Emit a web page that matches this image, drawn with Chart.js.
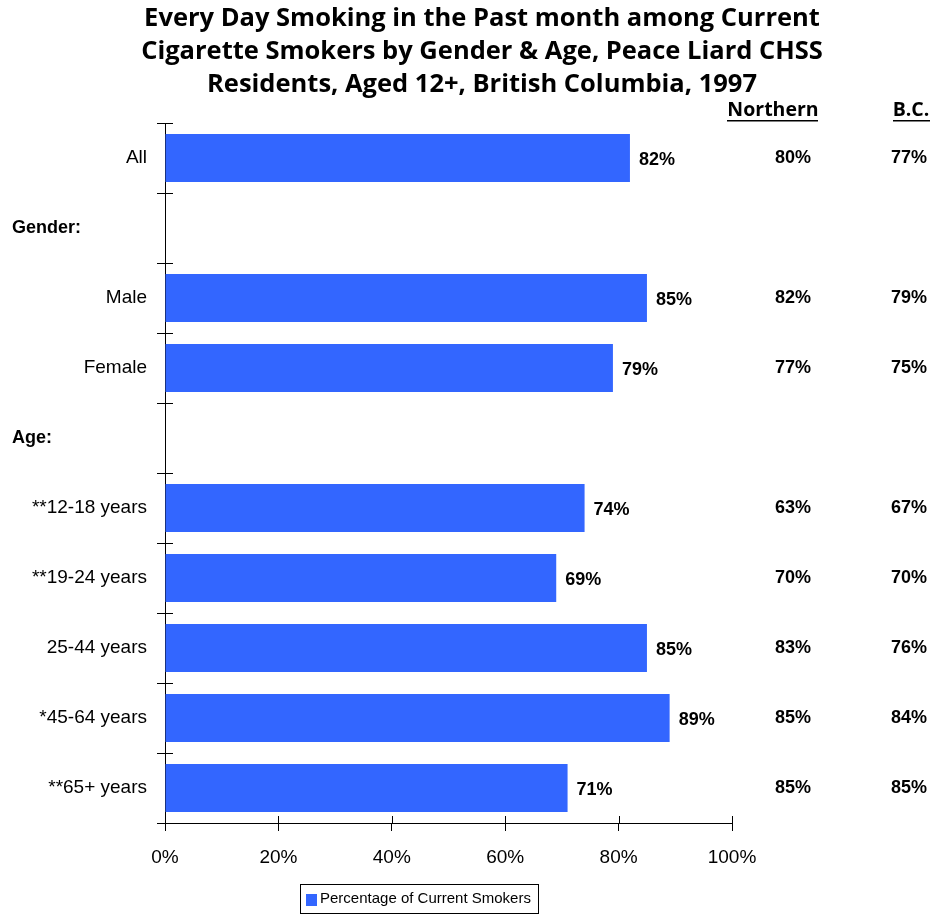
<!DOCTYPE html>
<html><head><meta charset="utf-8">
<script src="https://cdn.jsdelivr.net/npm/chart.js@4/dist/chart.umd.min.js"></script>
<style>html,body{margin:0;padding:0;background:#fff}#wrap{width:934px;height:914px}</style>
</head><body><div id="wrap"><canvas id="c" width="934" height="914"></canvas></div>
<script>
const categories = ['All','Gender:','Male','Female','Age:','**12-18 years','**19-24 years','25-44 years','*45-64 years','**65+ years'];
const headerRows = ['Gender:','Age:'];
const peaceLiard = [82,null,85,79,null,74,69,85,89,71];
const northern   = [80,null,82,77,null,63,70,83,85,85];
const bc         = [77,null,79,75,null,67,70,76,84,85];
const xTicks = [0,20,40,60,80,100];
const titleLines = ['Every Day Smoking in the Past month among Current','Cigarette Smokers by Gender & Age, Peace Liard CHSS','Residents, Aged 12+, British Columbia, 1997'];
const seriesName = 'Percentage of Current Smokers';
const colHeaders = ['Northern','B.C.'];
const BLUE = '#3366FF';
const FONT = '"Liberation Sans", Arial, sans-serif';
const TFONT = '"Open Sans", "Liberation Sans", sans-serif';

const extras = {
  id:'extras',
  afterDraw(chart){
    const ctx = chart.ctx, ys = chart.scales.y, xs = chart.scales.x, ca = chart.chartArea;
    ctx.save();
    // title
    ctx.fillStyle='#000'; ctx.textAlign='center'; ctx.textBaseline='middle';
    ctx.font = 'bold 25.5px ' + TFONT;
    titleLines.forEach((t,i)=>ctx.fillText(t, 482, 19 + i*33));
    // inward ticks y
    ctx.strokeStyle='#000'; ctx.lineWidth=1;
    const half = (ys.getPixelForValue(1)-ys.getPixelForValue(0))/2;
    for(let i=0;i<=categories.length;i++){
      const y = Math.round(ys.getPixelForValue(0) - half + i*2*half)+0.5;
      ctx.beginPath(); ctx.moveTo(ca.left, y); ctx.lineTo(ca.left+8, y); ctx.stroke();
    }
    xTicks.forEach(v=>{
      const x = Math.round(xs.getPixelForValue(v))+0.5;
      ctx.beginPath(); ctx.moveTo(x, ca.bottom); ctx.lineTo(x, ca.bottom-7); ctx.stroke();
    });
    // headers
    ctx.font = 'bold 18px ' + FONT; ctx.textAlign='left';
    categories.forEach((c,i)=>{
      if(headerRows.includes(c)) ctx.fillText(c, 12, ys.getPixelForValue(i));
    });
    // value labels
    const meta = chart.getDatasetMeta(0);
    peaceLiard.forEach((v,i)=>{
      if(v==null) return;
      const bar = meta.data[i];
      ctx.textAlign='left';
      ctx.fillText(v+'%', bar.x+9, bar.y+2);
      ctx.textAlign='center';
      ctx.fillText(northern[i]+'%', 793, bar.y);
      ctx.fillText(bc[i]+'%', 909, bar.y);
    });
    // column headers underlined
    ctx.font = 'bold 19.5px ' + TFONT;
    [[colHeaders[0],773],[colHeaders[1],911]].forEach(([t,x])=>{
      ctx.textAlign='center'; ctx.fillText(t, x, 110);
      const w = ctx.measureText(t).width;
      ctx.fillRect(Math.round(x-w/2), 120, Math.round(w), 1.5);
    });
    // legend
    ctx.strokeStyle='#000'; ctx.lineWidth=1;
    ctx.strokeRect(300.5, 884.5, 238, 29);
    ctx.fillStyle=BLUE; ctx.fillRect(306, 894, 11, 12);
    ctx.fillStyle='#000'; ctx.textAlign='left'; ctx.font='15px ' + FONT;
    ctx.fillText(seriesName, 320, 899);
    ctx.restore();
  }
};

new Chart(document.getElementById('c'), {
  type:'bar',
  data:{ labels:categories, datasets:[{label:seriesName, data:peaceLiard, backgroundColor:BLUE, borderWidth:0, barPercentage:0.686, categoryPercentage:1}] },
  options:{
    indexAxis:'y', responsive:false, animation:false,
    layout:{padding:{top:123, right:202, left:0, bottom:0}},
    plugins:{legend:{display:false}, title:{display:false}, tooltip:{enabled:false}},
    scales:{
      x:{min:0,max:100, afterFit(s){s.height=91;},
         afterBuildTicks(s){s.ticks = xTicks.map(v=>({value:v}));},
         ticks:{callback:v=>v+'%', color:'#000', font:{size:19, family:FONT}, padding:15},
         grid:{drawOnChartArea:false, tickLength:8, color:'#000'},
         border:{color:'#000'}},
      y:{afterFit(s){s.width=165;},
         ticks:{callback:(v,i)=>headerRows.includes(categories[i])?'':categories[i], color:'#000', font:{size:19, family:FONT}, padding:10},
         grid:{offset:true, drawOnChartArea:false, tickLength:8, color:'#000'},
         border:{color:'#000'}}
    }
  },
  plugins:[extras]
});
</script></body></html>
